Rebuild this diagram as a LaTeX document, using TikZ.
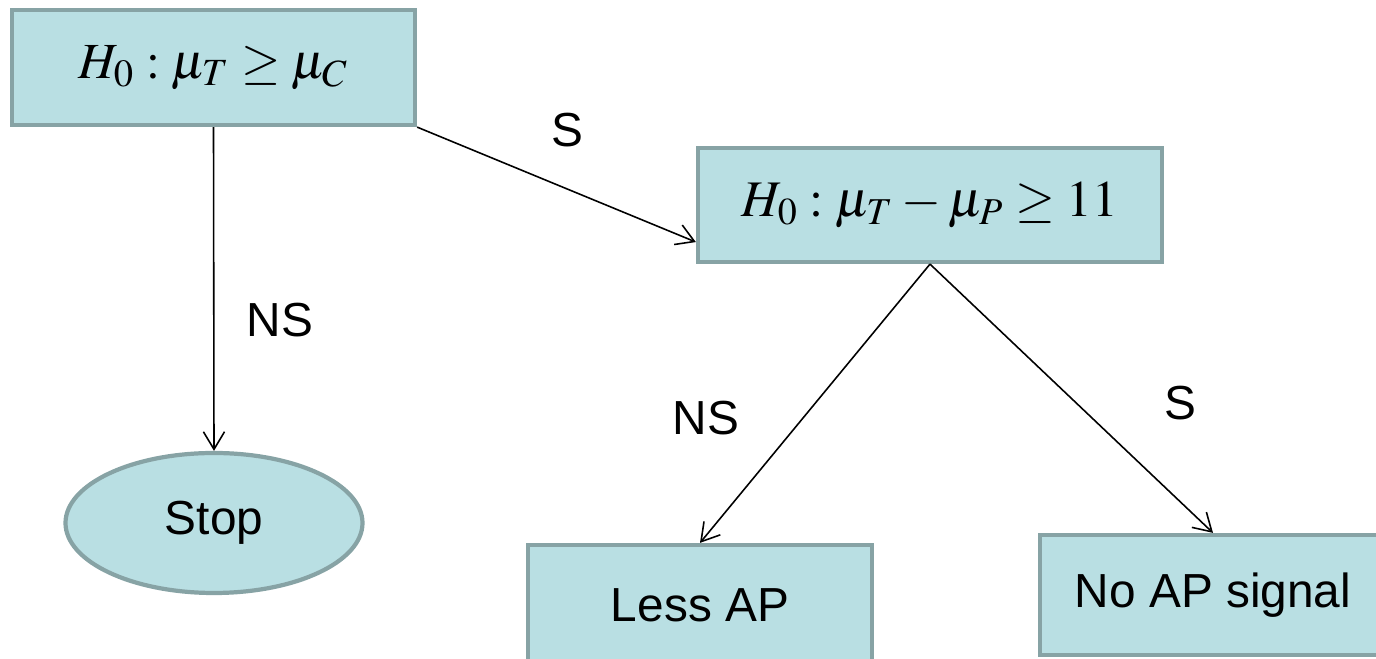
\documentclass[tikz,border=0pt]{standalone}
\usepackage{amsmath}
\usepackage{mathptmx}
\usepackage[no-math]{fontspec}
\setmainfont{Liberation Sans}
\usetikzlibrary{shapes.geometric,arrows.meta}

\definecolor{boxfill}{HTML}{B9DFE3}
\definecolor{boxline}{HTML}{87A3A5}

\tikzset{
    testbox/.style={draw=boxline, fill=boxfill, line width=1.2pt, rectangle, inner sep=0pt},
    endbox/.style={testbox, font=\fontsize{13.6}{16}\selectfont},
    link/.style={-{Straight Barb[length=5pt,width=6pt]}, line width=0.45pt},
    lbl/.style={font=\fontsize{13.6}{16}\selectfont, inner sep=0pt}
}

\begin{document}
\begin{tikzpicture}
    \useasboundingbox (0,0) rectangle (13.76,-6.59);
    \node[testbox, minimum width=4.03cm, minimum height=1.15cm] (h1) at (2.135,-0.675)
        {\fontsize{14.4}{17}\selectfont $H_0 : \mu_T \ge \mu_C$};
    \node[testbox, minimum width=4.64cm, minimum height=1.14cm] (h2) at (9.30,-2.05)
        {\fontsize{14.6}{17}\selectfont $H_0 : \mu_T - \mu_P \ge 11$};
    \node[endbox, ellipse, minimum width=2.97cm, minimum height=1.40cm] (stop) at (2.14,-5.23) {Stop};
    \node[endbox, minimum width=3.44cm, minimum height=1.20cm] (less) at (7.00,-6.05) {Less AP};
    \node[endbox, minimum width=3.46cm, minimum height=1.20cm] (noap) at (12.13,-5.95) {No AP signal};

    \draw[link] (h1.south) -- (stop.north);
    \draw[link] (h1.south east) -- (h2.189);
    \draw[link] (h2.south) -- (less.north);
    \draw[link] (h2.south) -- (noap.north);

    \node[lbl] (s1) at (5.67,-1.30) {S};
    \node[lbl] (ns1) at (2.80,-3.20) {NS};
    \node[lbl] (ns2) at (7.06,-4.18) {NS};
    \node[lbl] (s2) at (11.80,-4.03) {S};
\end{tikzpicture}
\end{document}
